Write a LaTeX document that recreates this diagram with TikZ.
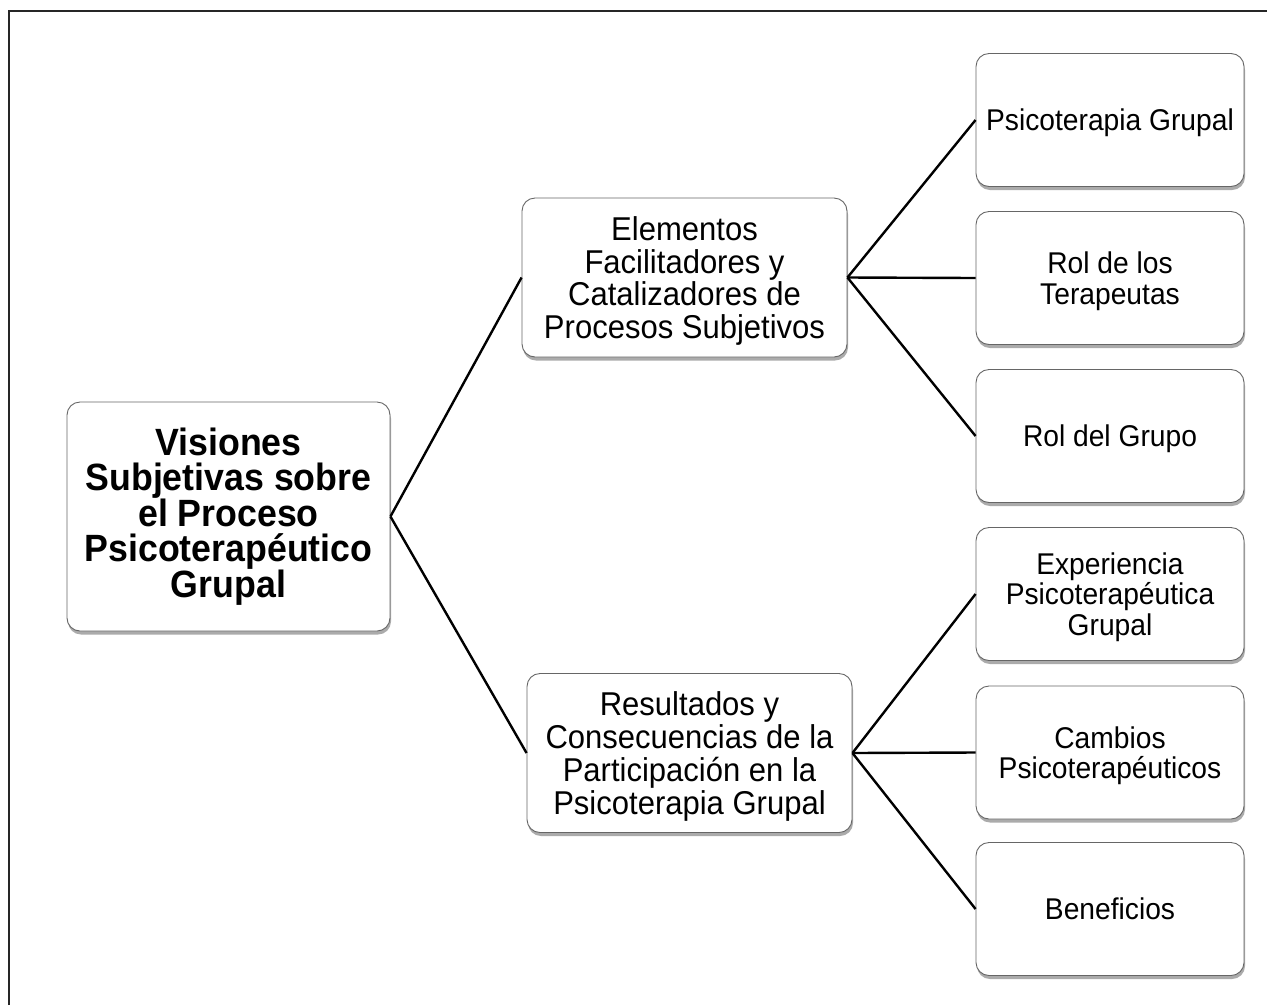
\documentclass[tikz,border=0pt]{standalone}
\usepackage{fontspec}
\setmainfont{Liberation Sans}[FakeStretch=0.94]
\usetikzlibrary{shadows}
\begin{document}
\begin{tikzpicture}[x=1pt,y=-1pt,
  box/.style={draw=black!60, line width=0.9pt, fill=white, rounded corners=13pt,
    align=center, text=black, inner sep=0pt,
    drop shadow={shadow xshift=1pt, shadow yshift=-3.5pt, opacity=0.55, fill=black!60}},
  rootbox/.style={box, minimum width=323pt, minimum height=229pt,
    font=\fontsize{38}{35.5}\selectfont\bfseries},
  midbox/.style={box, minimum width=325pt, minimum height=159pt, text depth=0pt,
    font=\fontsize{33}{32.8}\selectfont},
  leafbox/.style={box, minimum width=268pt, minimum height=133pt, text depth=0pt,
    font=\fontsize{30}{30.5}\selectfont},
  link/.style={draw=black, line width=2.4pt}]
\useasboundingbox (0,0) rectangle (1267,1005);
\fill[white] (0,0) rectangle (1267,1005);
\draw[line width=2.2pt, black!85, line join=miter] (9,1005) -- (9,11) -- (1267,11);

\node[rootbox] (root) at (228.5,516.5) {Visiones\\Subjetivas sobre\\el Proceso\\Psicoterapéutico\\Grupal};

\node[midbox] (mid1) at (684.5,277.5) {Elementos\\Facilitadores y\\Catalizadores de\\Procesos Subjetivos};
\node[midbox] (mid2) at (689.5,753) {Resultados y\\Consecuencias de la\\Participación en la\\Psicoterapia Grupal};

\node[leafbox] (l1) at (1110,120) {Psicoterapia Grupal};
\node[leafbox] (l2) at (1110,278) {Rol de los\\Terapeutas};
\node[leafbox] (l3) at (1110,436) {Rol del Grupo};
\node[leafbox] (l4) at (1110,594) {Experiencia\\Psicoterapéutica\\Grupal};
\node[leafbox] (l5) at (1110,752.5) {Cambios\\Psicoterapéuticos};
\node[leafbox] (l6) at (1110,909) {Beneficios};

\draw[link] (root.east) -- (mid1.west);
\draw[link] (root.east) -- (mid2.west);
\draw[link] (mid1.east) -- (l1.west);
\draw[link] (mid1.east) -- (l2.west);
\draw[link] (mid1.east) -- (l3.west);
\draw[link] (mid2.east) -- (l4.west);
\draw[link] (mid2.east) -- (l5.west);
\draw[link] (mid2.east) -- (l6.west);
\end{tikzpicture}
\end{document}
